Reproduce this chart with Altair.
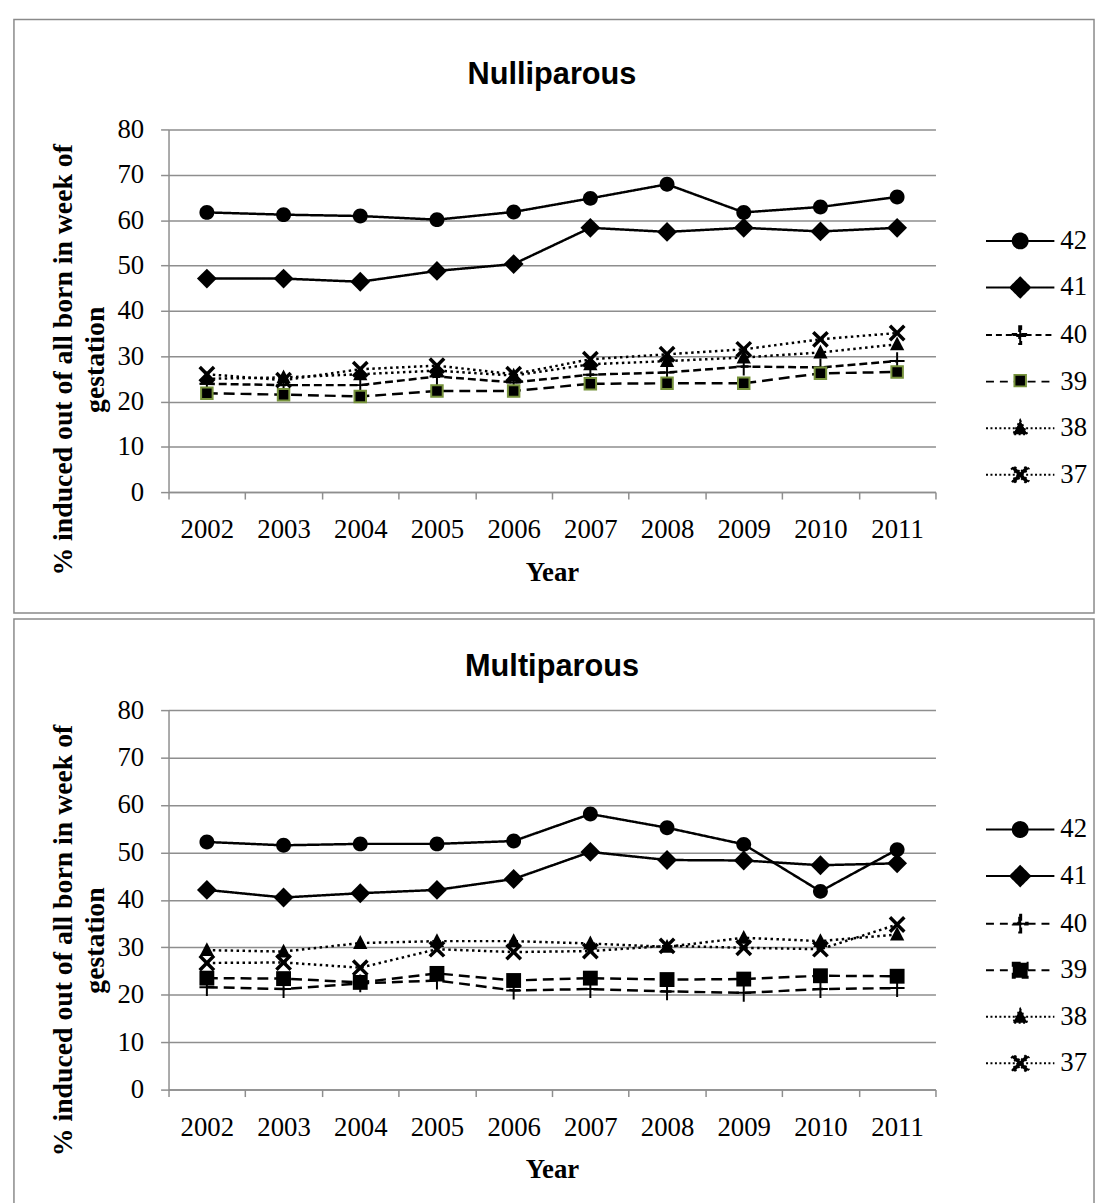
import altair as alt
import pandas as pd

years = ['2002', '2003', '2004', '2005', '2006', '2007', '2008', '2009', '2010', '2011']
series = ['42', '41', '40', '39', '38', '37']

# Nulliparous
nulli_42 = [61.7, 61.2, 60.9, 60.1, 61.8, 64.8, 67.9, 61.7, 62.9, 65.1]
nulli_41 = [47.1, 47.1, 46.4, 48.8, 50.3, 58.3, 57.4, 58.3, 57.5, 58.3]
nulli_40 = [23.9, 23.6, 23.6, 25.5, 24.2, 25.9, 26.4, 27.7, 27.5, 28.9]
nulli_39 = [21.8, 21.5, 21.1, 22.3, 22.3, 23.9, 24.0, 24.0, 26.2, 26.5]
nulli_38 = [25.0, 25.3, 26.0, 26.8, 25.7, 28.2, 28.9, 29.7, 30.8, 32.6]
nulli_37 = [26.0, 24.7, 27.1, 27.9, 26.0, 29.3, 30.4, 31.5, 33.7, 35.1]

# Multiparous
multi_42 = [52.2, 51.5, 51.8, 51.8, 52.4, 58.1, 55.2, 51.7, 41.8, 50.6]
multi_41 = [42.1, 40.5, 41.4, 42.1, 44.4, 50.1, 48.4, 48.3, 47.3, 47.7]
multi_40 = [21.6, 21.2, 22.4, 23.0, 20.9, 21.2, 20.7, 20.4, 21.2, 21.4]
multi_39 = [23.5, 23.4, 22.6, 24.5, 23.0, 23.5, 23.2, 23.3, 24.0, 23.9]
multi_38 = [29.4, 29.1, 30.9, 31.3, 31.3, 30.8, 30.1, 32.0, 31.3, 32.7]
multi_37 = [26.7, 26.8, 25.7, 29.6, 29.0, 29.2, 30.3, 29.9, 29.6, 34.8]

y_title = ['% induced out of all born in week of', 'gestation']


def long_df(cols):
    rows = []
    for s, vals in zip(series, cols):
        for yr, v in zip(years, vals):
            rows.append({'year': yr, 'series': s, 'sa': s, 'sb': s, 'value': v})
    return pd.DataFrame(rows)


# marker geometry (unit coords; symbol size 400 -> 10 px per unit)
CIRCLE = 'M0,-0.75A0.75,0.75,0,1,1,0,0.75A0.75,0.75,0,1,1,0,-0.75Z'
DIAMOND = 'M0,-1L1,0L0,1L-1,0Z'
PLUS = 'M-0.1,-0.9H0.1V-0.1H0.75V0.1H0.1V0.9H-0.1V0.1H-0.75V-0.1H-0.1Z'
TRI = 'M0,-0.8L0.72,0.6L-0.72,0.6Z'
CROSS = ('M-0.85,-0.6L-0.6,-0.85L0,-0.25L0.6,-0.85L0.85,-0.6L0.25,0L0.85,0.6'
         'L0.6,0.85L0,0.25L-0.6,0.85L-0.85,0.6L-0.25,0Z')
SQ_TOP = 'M-0.58,-0.58H0.58V0.58H-0.58Z'
SQ_BOT = 'M-0.75,-0.75H0.75V0.75H-0.75Z'
LINE = 'M-3.45,0H3.45'
EMPTY = 'M0,0'

SOLID = [1, 0]
DOT = [2.5, 3.5]


def panel(cols, title, height, rect_y, rect_y2, title_y, legend_y, top):
    df = long_df(cols)
    sq = SQ_TOP if top else SQ_BOT
    markers = [CIRCLE, DIAMOND, PLUS, sq, TRI, CROSS]
    if top:
        dashes = [SOLID, SOLID, [8, 4], [11, 6], DOT, DOT]
        leg_dashes = [SOLID, SOLID, [6, 4], [8, 6], [2, 2.5], [2, 2.5]]
        strokes = ['transparent', 'transparent', 'transparent', '#77933c', 'transparent', 'transparent']
        leg_paths = [LINE + CIRCLE, LINE + DIAMOND, LINE + PLUS, LINE, LINE + TRI, LINE + CROSS]
    else:
        dashes = [SOLID, SOLID, [11, 6], [11, 6], DOT, DOT]
        leg_dashes = [SOLID, SOLID, [8, 6], [8, 6], [2, 2.5], [2, 2.5]]
        strokes = ['transparent'] * 6
        leg_paths = [LINE + m for m in markers]

    x = alt.X('year:O', sort=years,
              scale=alt.Scale(type='band', paddingInner=0, paddingOuter=0),
              axis=alt.Axis(title='Year', tickBand='extent', labelAngle=0, tickSize=7,
                            labelPadding=18, grid=False, titleBaseline='alphabetic',
                            titleY=89, titleFontSize=27))
    y = alt.Y('value:Q', scale=alt.Scale(domain=[0, 80], nice=False),
              axis=alt.Axis(values=list(range(0, 81, 10)), title=y_title, titleAngle=270,
                            titleX=-98, titleY=232, titleAlign='center',
                            titleBaseline='alphabetic', titleLineHeight=32,
                            tickSize=8, labelPadding=17, grid=True))

    frame = alt.Chart(pd.DataFrame({'f': [0]})).mark_rect(
        filled=False, stroke='#8a8a8a', strokeWidth=1.5
    ).encode(x=alt.value(-156), x2=alt.value(934), y=alt.value(rect_y), y2=alt.value(rect_y2))

    title_text = alt.Chart(pd.DataFrame({'t': [title]})).mark_text(
        font='Liberation Sans', fontSize=31, fontWeight='bold', color='black',
        align='center', baseline='alphabetic'
    ).encode(text='t:N', x=alt.value(387), y=alt.value(title_y))

    lines = alt.Chart(df).mark_line(color='black', strokeWidth=2.5).encode(
        x=x, y=y,
        strokeDash=alt.StrokeDash('series:N', scale=alt.Scale(domain=series, range=dashes), legend=None),
    )

    points = alt.Chart(df).mark_point(filled=True, fill='black', opacity=1, size=400, strokeWidth=2).encode(
        x=x, y=y,
        shape=alt.Shape('series:N', scale=alt.Scale(domain=series, range=markers), legend=None),
        stroke=alt.Stroke('series:N', scale=alt.Scale(domain=series, range=strokes), legend=None),
    )

    leg_common = dict(orient='none', legendX=846, legendY=legend_y, title=None, padding=0,
                      symbolSize=400, symbolOpacity=1, symbolStrokeWidth=2,
                      labelFont='Liberation Serif', labelFontSize=27, labelOffset=27,
                      rowPadding=19, labelLimit=200)
    legA = alt.Legend(**leg_common, labelColor='black')
    legA_layer = alt.Chart(df).mark_point(fill='black', stroke='black', strokeWidth=2, size=400, opacity=0).encode(
        x=x, y=y,
        shape=alt.Shape('sa:N', scale=alt.Scale(domain=series, range=leg_paths), legend=legA),
        strokeDash=alt.StrokeDash('sa:N', scale=alt.Scale(domain=series, range=leg_dashes), legend=legA),
    )
    layers = [frame, title_text, lines, points, legA_layer]
    if top:
        legB = alt.Legend(**leg_common, labelColor='transparent')
        legB_layer = alt.Chart(df).mark_point(fill='black', strokeWidth=2, size=400, opacity=0).encode(
            x=x, y=y,
            shape=alt.Shape('sb:N', scale=alt.Scale(domain=series,
                                                      range=[EMPTY, EMPTY, EMPTY, SQ_TOP, EMPTY, EMPTY]),
                            legend=legB),
            stroke=alt.Stroke('sb:N', scale=alt.Scale(domain=series, range=strokes), legend=legB),
        )
        layers.append(legB_layer)

    return alt.layer(*layers).resolve_scale(
        shape='independent', strokeDash='independent', stroke='independent'
    ).properties(width=774, height=height)


top = panel([nulli_42, nulli_41, nulli_40, nulli_39, nulli_38, nulli_37], 'Nulliparous',
            366, -111, 488, -46, 99, True)
bottom = panel([multi_42, multi_41, multi_40, multi_39, multi_38, multi_37], 'Multiparous',
               383, -92, 504, -34, 107, False)

chart = alt.vconcat(top, bottom, spacing=2).resolve_scale(
    shape='independent', strokeDash='independent', stroke='independent'
).properties(
    padding={'left': 4, 'top': 4, 'right': 0, 'bottom': 0}
).configure_view(
    stroke='transparent'
).configure_axis(
    labelFont='Liberation Serif', labelFontSize=27, labelColor='black',
    titleFont='Liberation Serif', titleFontSize=28, titleFontWeight='bold', titleColor='black',
    domainColor='#8e8e8e', domainWidth=1.5, tickColor='#8e8e8e', tickWidth=1.5,
    gridColor='#8e8e8e', gridWidth=1.5
)

chart.save('out.html', embed_options={'renderer': 'svg', 'actions': False})
